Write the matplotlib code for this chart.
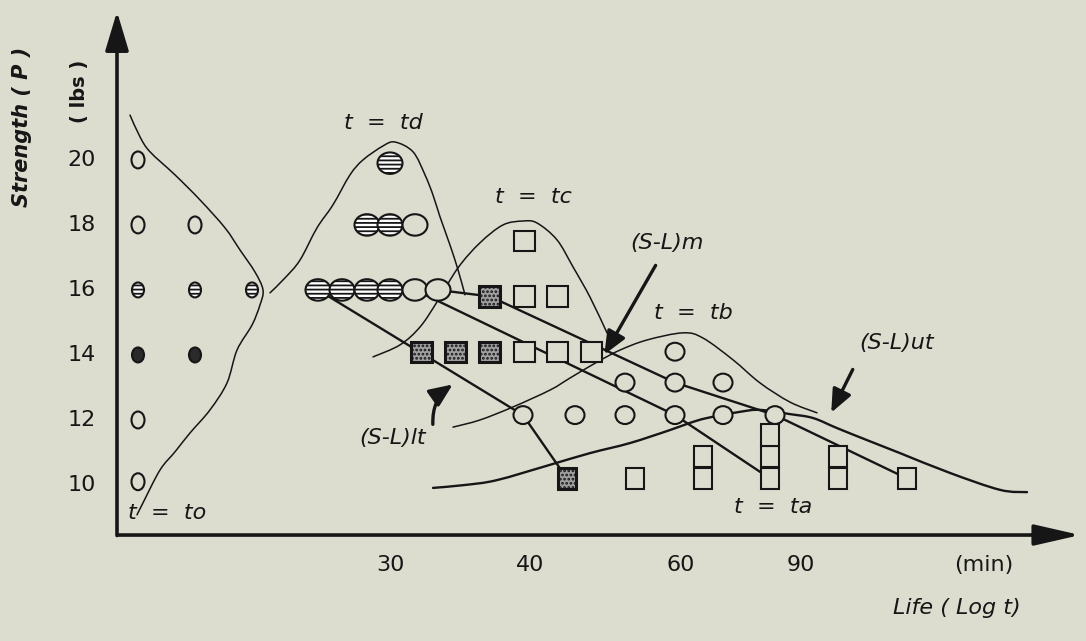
import matplotlib.pyplot as plt
from matplotlib.patches import Ellipse, Rectangle, PathPatch
from matplotlib.path import Path

BG = '#dcddcf'
INK = '#161616'

# x is position along the life axis (log t, arbitrary units), p is strength in lbs
# ---- t = to : specimens at the start
to_open_x = [2.1, 2.1, 7.8, 2.1, 2.1]
to_open_p = [20, 18, 18, 12, 10.1]
to_hatch_x = [2.1, 7.8, 13.5]
to_hatch_p = [16, 16, 16]
to_dark_x = [2.1, 7.8]
to_dark_p = [14, 14]

# ---- t = td
td_hatch_x = [27.3, 25.0, 27.3, 20.1, 22.5, 25.0, 27.3]
td_hatch_p = [19.9, 18.0, 18.0, 16.0, 16.0, 16.0, 16.0]
td_open_x = [29.8, 29.8, 32.1]
td_open_p = [18.0, 16.0, 16.0]

# ---- t = tc
tc_dark_x = [37.3, 30.5, 33.9, 37.3]
tc_dark_p = [15.8, 14.1, 14.1, 14.1]
tc_open_x = [40.7, 40.7, 44.1, 40.7, 44.1, 47.5]
tc_open_p = [17.5, 15.8, 15.8, 14.1, 14.1, 14.1]

# ---- t = tb
tb_open_x = [55.8, 50.8, 55.8, 60.6, 40.6, 45.8, 50.8, 55.8, 60.6, 65.8]
tb_open_p = [14.1, 13.15, 13.15, 13.15, 12.15, 12.15, 12.15, 12.15, 12.15, 12.15]

# ---- t = ta
ta_dark_x = [45.0]
ta_dark_p = [10.2]
ta_open_x = [51.8, 58.6, 58.6, 65.3, 65.3, 65.3, 72.1, 72.1, 79.0]
ta_open_p = [10.2, 10.2, 10.87, 10.2, 10.87, 11.54, 10.2, 10.87, 10.2]

# ---- distribution curves
to_curve_x = [1.3, 2.3, 3.3, 5.8, 8.3, 10.8, 12.3, 13.8, 14.6, 14.3, 13.5, 12.0,
              11.0, 9.3, 7.3, 5.8, 4.3, 2.6, 2.0]
to_curve_p = [21.38, 20.71, 20.25, 19.54, 18.77, 17.91, 17.23, 16.55, 16.0, 15.54,
              14.92, 14.15, 13.14, 12.31, 11.6, 11.02, 10.46, 9.45, 9.08]
td_curve_x = [15.3, 16.8, 18.3, 20.0, 21.6, 23.3, 24.6, 26.6, 27.8, 29.6, 30.8,
              31.6, 32.3, 33.3, 34.1, 34.8]
td_curve_p = [15.91, 16.37, 16.92, 17.91, 18.62, 19.54, 20.0, 20.43, 20.55, 20.25,
              19.54, 18.92, 18.25, 17.38, 16.62, 15.85]
tc_curve_x = [25.6, 28.3, 30.3, 32.0, 34.1, 36.3, 38.6, 40.6, 42.0, 44.0, 45.6,
              47.3, 49.0]
tc_curve_p = [13.94, 14.31, 14.86, 15.63, 16.68, 17.45, 18.0, 18.12, 18.06, 17.54,
              16.71, 15.78, 14.68]
tb_curve_x = [33.6, 36.3, 39.6, 43.3, 45.3, 48.0, 50.3, 53.0, 56.6, 58.6, 61.6,
              64.3, 67.3, 70.0]
tb_curve_p = [11.78, 12.0, 12.4, 12.92, 13.29, 13.78, 14.15, 14.46, 14.68, 14.52,
              13.85, 13.14, 12.55, 12.22]
ta_curve_x = [31.6, 34.8, 38.0, 43.3, 47.3, 51.3, 55.3, 57.3, 59.0, 62.3, 64.3,
              67.3, 69.6, 72.0, 75.0, 78.3, 83.3, 88.3, 91.0]
ta_curve_p = [9.91, 10.0, 10.15, 10.62, 10.98, 11.29, 11.69, 11.91, 12.06, 12.25,
              12.31, 12.18, 12.06, 11.75, 11.38, 10.98, 10.37, 9.85, 9.78]

# ---- strength-life lines
sl_lt_x = [20.1, 40.6, 45.0]
sl_lt_p = [16.0, 12.15, 10.2]
sl_mid_x = [29.8, 55.8, 65.3]
sl_mid_p = [16.0, 12.15, 10.2]
sl_top_x = [32.1, 37.3, 55.8, 65.8, 79.0]
sl_top_p = [16.0, 15.8, 13.15, 12.15, 10.2]

ytick_vals = [20, 18, 16, 14, 12, 10]
xtick_pos = [27.3, 41.3, 56.4, 68.4, 86.7]
xtick_labels = ['30', '40', '60', '90', '(min)']

X0, P0 = 0.0, 8.46  # origin of the drawn axes

plt.rcParams['hatch.linewidth'] = 1.3
fig = plt.figure(figsize=(10.86, 6.41), dpi=100, facecolor=BG)
ax = fig.add_axes([0, 0, 1, 1])
ax.set_facecolor(BG)
ax.set_xlim(-11.7, 96.9)
ax.set_ylim(5.2, 24.92)
ax.axis('off')


def smooth(xs, ps, lw):
    # Catmull-Rom through the read points, drawn as cubic Bezier pieces
    pts = list(zip(xs, ps))
    verts = [pts[0]]
    codes = [Path.MOVETO]
    n = len(pts)
    for i in range(n - 1):
        p0 = pts[max(i - 1, 0)]
        p1, p2 = pts[i], pts[i + 1]
        p3 = pts[min(i + 2, n - 1)]
        c1 = (p1[0] + (p2[0] - p0[0]) / 6, p1[1] + (p2[1] - p0[1]) / 6)
        c2 = (p2[0] - (p3[0] - p1[0]) / 6, p2[1] - (p3[1] - p1[1]) / 6)
        verts += [c1, c2, p2]
        codes += [Path.CURVE4] * 3
    ax.add_patch(PathPatch(Path(verts, codes), fill=False, edgecolor=INK,
                           lw=lw, zorder=2, capstyle='round'))


def ellipses(xs, ps, w, h, fc, hatch=None, lw=1.5):
    for x, p in zip(xs, ps):
        ax.add_patch(Ellipse((x, p), w, h, facecolor=fc, edgecolor=INK, lw=lw,
                             hatch=hatch, zorder=4))


def boxes(xs, ps, w, h, fc, hatch=None, lw=1.5):
    for x, p in zip(xs, ps):
        ax.add_patch(Rectangle((x - w / 2, p - h / 2), w, h, facecolor=fc,
                               edgecolor=INK, lw=lw, hatch=hatch, zorder=4))


# curves
for cx, cp in [(to_curve_x, to_curve_p), (td_curve_x, td_curve_p),
               (tc_curve_x, tc_curve_p), (tb_curve_x, tb_curve_p)]:
    smooth(cx, cp, 1.1)
smooth(ta_curve_x, ta_curve_p, 1.7)

# S-L lines
for lx, lp in [(sl_lt_x, sl_lt_p), (sl_mid_x, sl_mid_p), (sl_top_x, sl_top_p)]:
    ax.plot(lx, lp, color=INK, lw=1.7, zorder=3)

# markers
ellipses(to_open_x, to_open_p, 1.3, 0.52, BG)
ellipses(to_hatch_x, to_hatch_p, 1.2, 0.46, 'white', hatch='----')
ellipses(to_dark_x, to_dark_p, 1.2, 0.46, '#2a2a2a')
ellipses(td_hatch_x, td_hatch_p, 2.5, 0.66, 'white', hatch='----')
ellipses(td_open_x, td_open_p, 2.5, 0.66, BG)
boxes(tc_dark_x, tc_dark_p, 2.1, 0.62, '#a0a0a0', hatch='....', lw=2.2)
boxes(tc_open_x, tc_open_p, 2.1, 0.62, BG)
ellipses(tb_open_x, tb_open_p, 1.9, 0.55, BG)
boxes(ta_dark_x, ta_dark_p, 1.8, 0.66, '#a0a0a0', hatch='....', lw=2.2)
boxes(ta_open_x, ta_open_p, 1.8, 0.66, BG)

# axes with arrow heads
ax.annotate('', xy=(96.6, P0), xytext=(X0 - 0.15, P0),
            arrowprops=dict(arrowstyle='-|>,head_length=1.4,head_width=0.32',
                            color=INK, lw=2.6, mutation_scale=20))
ax.annotate('', xy=(X0, 24.65), xytext=(X0, P0 - 0.1),
            arrowprops=dict(arrowstyle='-|>,head_length=1.2,head_width=0.36',
                            color=INK, lw=2.6, mutation_scale=20))

# tick labels
for v in ytick_vals:
    ax.text(-3.5, v, str(v), ha='center', va='center', fontsize=16, color=INK)
for xp, lab in zip(xtick_pos, xtick_labels):
    ax.text(xp, 7.54, lab, ha='center', va='center', fontsize=16, color=INK)

ax.text(-9.5, 21.0, 'Strength ( P )', rotation=90, ha='center', va='center',
        fontsize=15, fontweight='bold', style='italic', color=INK)
ax.text(-3.7, 22.1, '( lbs )', rotation=90, ha='center', va='center',
        fontsize=14, fontweight='bold', color=INK)
ax.text(84.0, 6.22, 'Life ( Log t)', ha='center', va='center', fontsize=16,
        style='italic', color=INK)

# curve labels
labels = [(26.6, 21.14, 't  =  td'), (41.6, 18.86, 't  =  tc'),
          (57.6, 15.29, 't  =  tb'), (65.6, 9.32, 't  =  ta'),
          (5.0, 9.14, 't  =  to'), (55.0, 17.45, '(S-L)m'),
          (78.0, 14.37, '(S-L)ut'), (27.6, 11.45, '(S-L)lt')]
for lx, lp, s in labels:
    ax.text(lx, lp, s, ha='center', va='center', fontsize=16, style='italic',
            color=INK, zorder=6)

# pointer arrows for the S-L labels
arrow_kw = dict(arrowstyle='-|>,head_length=0.7,head_width=0.3', color=INK,
                lw=2.4, mutation_scale=20)
ax.annotate('', xy=(48.6, 13.94), xytext=(54.0, 16.83), arrowprops=arrow_kw,
            zorder=5)
ax.annotate('', xy=(71.3, 12.15), xytext=(73.7, 13.63), arrowprops=arrow_kw,
            zorder=5)
ax.annotate('', xy=(33.8, 13.14), xytext=(31.6, 11.78),
            arrowprops=dict(arrow_kw, connectionstyle='arc3,rad=-0.3'), zorder=5)

fig.savefig('out.png', dpi=100, facecolor=BG)
